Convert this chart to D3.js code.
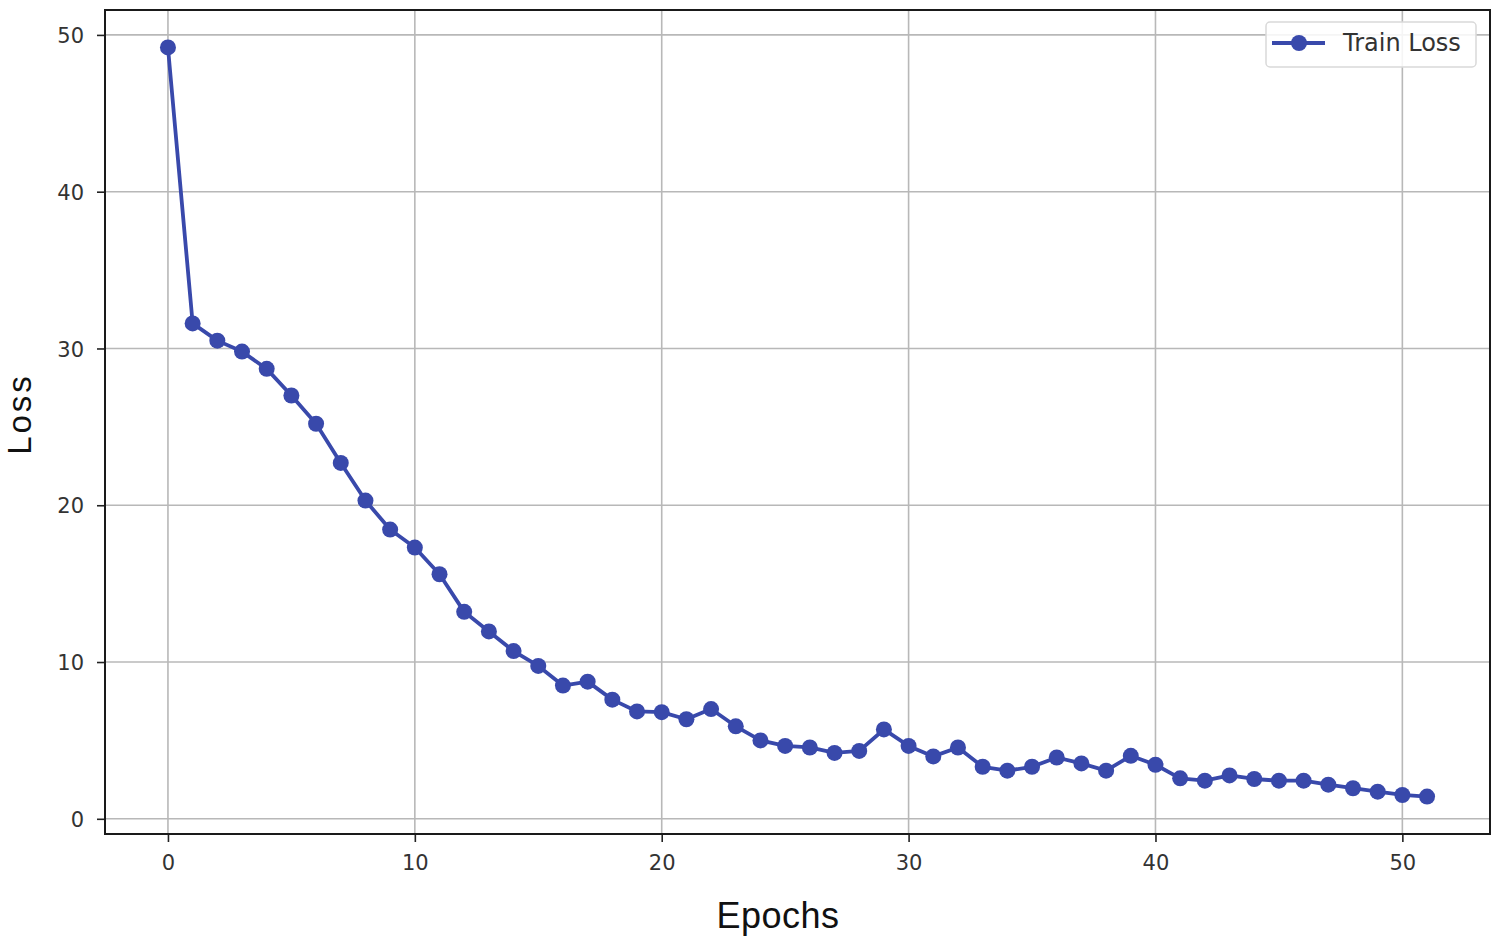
<!DOCTYPE html>
<html lang="en">
	<head>
		<meta charset="utf-8">
		<title>Train Loss</title>
		<script src="https://cdnjs.cloudflare.com/ajax/libs/d3/7.8.5/d3.min.js"></script>
		<style type="text/css">
			body { margin: 0; background: #fff; }
			.tick text { font-family: "DejaVu Sans", sans-serif; font-size: 21px; fill: #333; }
		</style>
	</head>
	<body>
		<script type="text/javascript">

			// Loss per epoch
			var epochs = d3.range(0, 52);
			var trainLoss = [49.2, 31.6, 30.5, 29.8, 28.7, 27.0, 25.2, 22.7, 20.3, 18.45,
				17.3, 15.6, 13.2, 11.95, 10.7, 9.75, 8.5, 8.75, 7.6, 6.85,
				6.8, 6.35, 7.0, 5.9, 5.0, 4.65, 4.55, 4.2, 4.33, 5.7,
				4.65, 3.98, 4.55, 3.32, 3.07, 3.32, 3.91, 3.53, 3.07, 4.02,
				3.45, 2.58, 2.43, 2.77, 2.54, 2.43, 2.43, 2.18, 1.95, 1.73,
				1.52, 1.42];
			var xTicks = [0, 10, 20, 30, 40, 50];
			var yTicks = [0, 10, 20, 30, 40, 50];
			var seriesName = "Train Loss";

			//Width and height
			var w = 1500;
			var h = 940;
			var plotL = 105, plotT = 10, plotR = 1490, plotB = 834;
			var blue = "#3949ab";

			var svg = d3.select("body")
						.append("svg")
						.attr("width", w)
						.attr("height", h);

			// matplotlib style 5% margins
			var xPad = (d3.max(epochs) - d3.min(epochs)) * 0.05;
			var x = d3.scaleLinear()
				.domain([d3.min(epochs) - xPad, d3.max(epochs) + xPad])
				.range([plotL, plotR]);
			var yPad = (d3.max(trainLoss) - d3.min(trainLoss)) * 0.05;
			var y = d3.scaleLinear()
				.domain([d3.min(trainLoss) - yPad, d3.max(trainLoss) + yPad])
				.range([plotB, plotT]);

			//Grid
			svg.append("g")
				.selectAll("line")
				.data(xTicks)
				.enter()
				.append("line")
				.attr("x1", function(d) { return x(d); })
				.attr("x2", function(d) { return x(d); })
				.attr("y1", plotT)
				.attr("y2", plotB)
				.attr("stroke", "#b8b8b8")
				.attr("stroke-width", 1.6);
			svg.append("g")
				.selectAll("line")
				.data(yTicks)
				.enter()
				.append("line")
				.attr("y1", function(d) { return y(d); })
				.attr("y2", function(d) { return y(d); })
				.attr("x1", plotL)
				.attr("x2", plotR)
				.attr("stroke", "#b8b8b8")
				.attr("stroke-width", 1.6);

			//Axes
			var xAxis = svg.append("g")
				.attr("transform", "translate(0," + plotB + ")")
				.call(d3.axisBottom(x).tickValues(xTicks).tickSize(8).tickPadding(13).tickFormat(d3.format("d")));
			var yAxis = svg.append("g")
				.attr("transform", "translate(" + plotL + ",0)")
				.call(d3.axisLeft(y).tickValues(yTicks).tickSize(8).tickPadding(13).tickFormat(d3.format("d")));
			xAxis.select(".domain").remove();
			yAxis.select(".domain").remove();
			svg.selectAll(".tick line").attr("stroke", "#222").attr("stroke-width", 1.6);
			yAxis.selectAll(".tick text").attr("dy", "0.36em");

			//Frame
			svg.append("rect")
				.attr("x", plotL)
				.attr("y", plotT)
				.attr("width", plotR - plotL)
				.attr("height", plotB - plotT)
				.attr("fill", "none")
				.attr("stroke", "#1a1a1a")
				.attr("stroke-width", 2);

			//Line and markers
			var line = d3.line()
				.x(function(d, i) { return x(epochs[i]); })
				.y(function(d) { return y(d); });

			svg.append("path")
				.datum(trainLoss)
				.attr("d", line)
				.attr("fill", "none")
				.attr("stroke", blue)
				.attr("stroke-width", 3.8)
				.attr("stroke-linejoin", "round");

			svg.append("g")
				.selectAll("circle")
				.data(trainLoss)
				.enter()
				.append("circle")
				.attr("cx", function(d, i) { return x(epochs[i]); })
				.attr("cy", function(d) { return y(d); })
				.attr("r", 8)
				.attr("fill", blue);

			//Axis labels
			svg.append("text")
				.attr("x", 778)
				.attr("y", 928)
				.attr("text-anchor", "middle")
				.style("font-family", "'Liberation Sans', Arial, sans-serif")
				.style("font-size", "36px")
				.style("letter-spacing", "0.5px")
				.style("fill", "#111")
				.text("Epochs");
			svg.append("text")
				.attr("transform", "translate(31,414) rotate(-90)")
				.attr("text-anchor", "middle")
				.style("font-family", "'Liberation Sans', Arial, sans-serif")
				.style("font-size", "33px")
				.style("letter-spacing", "3px")
				.style("fill", "#111")
				.text("Loss");

			//Legend
			var legend = svg.append("g").attr("transform", "translate(1266,22)");
			legend.append("rect")
				.attr("width", 210)
				.attr("height", 45)
				.attr("rx", 4)
				.attr("fill", "#fff")
				.attr("fill-opacity", 0.85)
				.attr("stroke", "#d9d9d9")
				.attr("stroke-width", 1.5);
			legend.append("line")
				.attr("x1", 6).attr("x2", 59)
				.attr("y1", 21).attr("y2", 21)
				.attr("stroke", blue)
				.attr("stroke-width", 3.8);
			legend.append("circle")
				.attr("cx", 33).attr("cy", 21).attr("r", 8)
				.attr("fill", blue);
			legend.append("text")
				.attr("x", 77)
				.attr("y", 29)
				.style("font-family", "'DejaVu Sans', sans-serif")
				.style("font-size", "24px")
				.style("fill", "#333")
				.text(seriesName);

		</script>
	</body>
</html>
